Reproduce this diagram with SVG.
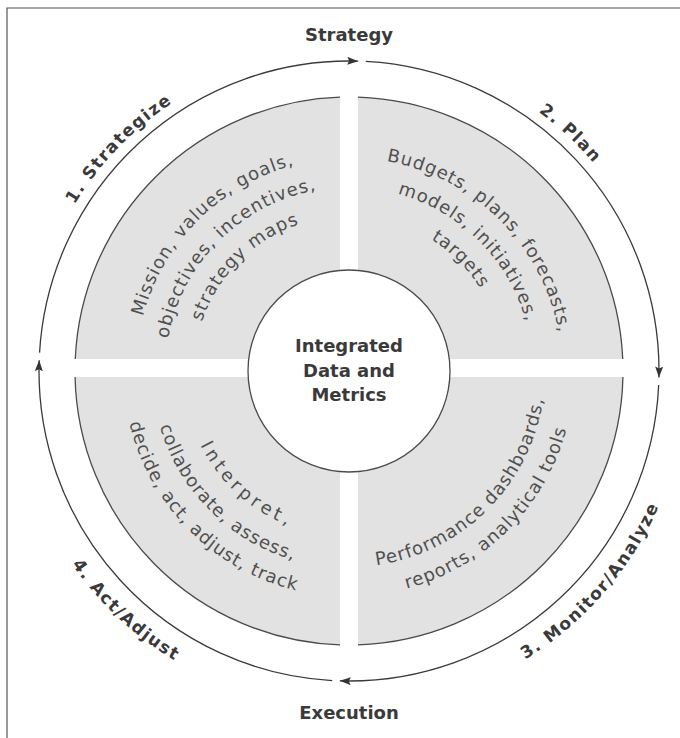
<svg xmlns="http://www.w3.org/2000/svg" width="680" height="738" viewBox="0 0 680 738">
  <style>
    .quad { fill: #e2e2e2; stroke: none; }
    .edge { fill: none; stroke: #4a4a4a; stroke-width: 1.3; }
    .conn { fill: none; stroke: #3a3a3a; stroke-width: 1.3; }
    .lbl { font-family: "DejaVu Sans", "Liberation Sans", sans-serif; font-weight: bold; font-size: 17px; fill: #3a3a3a; letter-spacing: 1.5px; }
    .in { font-family: "DejaVu Sans", "Liberation Sans", sans-serif; font-size: 18px; fill: #505050; letter-spacing: 1px; }
    .wide { letter-spacing: 4px; }
    .hd { font-family: "DejaVu Sans", "Liberation Sans", sans-serif; font-weight: bold; font-size: 18px; fill: #3a3a3a; text-anchor: middle; }
  </style>
  <defs>
    <marker id="arrow" markerUnits="userSpaceOnUse" markerWidth="12" markerHeight="8" refX="11" refY="4" orient="auto">
      <path d="M0,0 L11,4 L0,8 L2,4 Z" fill="#333"/>
    </marker>
    <!-- top texts (clockwise) -->
    <path id="tl1" d="M174.5,493.2 A213,213 0 0 1 471.2,196.5"/>
    <path id="tl2" d="M198.3,476.5 A184,184 0 0 1 454.5,220.3"/>
    <path id="tl3" d="M222.0,459.9 A155,155 0 0 1 437.9,244.0"/>
    <path id="tr1" d="M226.8,196.5 A213,213 0 0 1 523.5,493.2"/>
    <path id="tr2" d="M243.5,220.3 A184,184 0 0 1 499.7,476.5"/>
    <path id="tr3" d="M260.1,244.0 A155,155 0 0 1 476.0,459.9"/>
    <!-- bottom texts (counter-clockwise) -->
    <path id="br1" d="M236.6,531.6 A196,196 0 0 0 509.6,258.6"/>
    <path id="br2" d="M219.9,555.3 A225,225 0 0 0 533.3,241.9"/>
    <path id="bl1" d="M208.2,283.0 A166,166 0 0 0 451.2,501.8"/>
    <path id="bl2" d="M187.6,258.0 A197,197 0 0 0 462.0,532.4"/>
    <path id="bl3" d="M163.9,241.4 A226,226 0 0 0 478.6,556.1"/>
    <!-- outer stage labels -->
    <path id="o1" d="M89.3,559.7 A321,321 0 0 1 528.5,104.9"/>
    <path id="o2" d="M155.8,114.6 A321,321 0 0 1 618.2,545.8"/>
    <path id="o3" d="M174.9,660.7 A338,338 0 0 0 611.7,158.3"/>
    <path id="o4" d="M65.5,186.9 A338,338 0 0 0 552.4,640.9"/>
  </defs>

  <rect width="680" height="738" fill="#ffffff"/>
  <g id="frame">
    <path d="M7,738 L7,8 L680,8" fill="none" stroke="#555" stroke-width="1.2"/>
  </g>

  <g id="node-strategize">
    <path class="quad" d="M340,359 L340,97.15 A274,274 0 0 0 75.26,359 Z"/>
    <path class="edge" d="M340,97.15 A274,274 0 0 0 75.26,359"/>
    <text class="in"><textPath href="#tl1" startOffset="50%" text-anchor="middle">Mission, values, goals,</textPath></text>
    <text class="in"><textPath href="#tl2" startOffset="50%" text-anchor="middle">objectives, incentives,</textPath></text>
    <text class="in"><textPath href="#tl3" startOffset="50%" text-anchor="middle">strategy maps</textPath></text>
    <text class="lbl"><textPath href="#o1" startOffset="50%" text-anchor="middle">1. Strategize</textPath></text>
  </g>

  <g id="node-plan">
    <path class="quad" d="M358,359 L358,97.15 A274,274 0 0 1 622.74,359 Z"/>
    <path class="edge" d="M358,97.15 A274,274 0 0 1 622.74,359"/>
    <text class="in"><textPath href="#tr1" startOffset="50%" text-anchor="middle">Budgets, plans, forecasts,</textPath></text>
    <text class="in"><textPath href="#tr2" startOffset="50%" text-anchor="middle">models, initiatives,</textPath></text>
    <text class="in"><textPath href="#tr3" startOffset="50%" text-anchor="middle">targets</textPath></text>
    <text class="lbl"><textPath href="#o2" startOffset="50%" text-anchor="middle">2. Plan</textPath></text>
  </g>

  <g id="node-monitor">
    <path class="quad" d="M358,377 L622.93,377 A274,274 0 0 1 358,644.85 Z"/>
    <path class="edge" d="M622.93,377 A274,274 0 0 1 358,644.85"/>
    <text class="in"><textPath href="#br1" startOffset="50%" text-anchor="middle">Performance dashboards,</textPath></text>
    <text class="in"><textPath href="#br2" startOffset="50%" text-anchor="middle">reports, analytical tools</textPath></text>
    <text class="lbl"><textPath href="#o3" startOffset="50%" text-anchor="middle">3. Monitor/Analyze</textPath></text>
  </g>

  <g id="node-act">
    <path class="quad" d="M340,377 L75.07,377 A274,274 0 0 0 340,644.85 Z"/>
    <path class="edge" d="M75.07,377 A274,274 0 0 0 340,644.85"/>
    <text class="in wide"><textPath href="#bl1" startOffset="50%" text-anchor="middle">Interpret,</textPath></text>
    <text class="in"><textPath href="#bl2" startOffset="50%" text-anchor="middle">collaborate, assess,</textPath></text>
    <text class="in"><textPath href="#bl3" startOffset="50%" text-anchor="middle">decide, act, adjust, track</textPath></text>
    <text class="lbl"><textPath href="#o4" startOffset="50%" text-anchor="middle">4. Act/Adjust</textPath></text>
  </g>

  <g id="node-center">
    <circle cx="349" cy="371" r="101" fill="#ffffff" stroke="#4a4a4a" stroke-width="1.3"/>
    <text class="hd" x="349" y="352">Integrated</text>
    <text class="hd" x="349" y="377">Data and</text>
    <text class="hd" x="349" y="401">Metrics</text>
  </g>

  <g id="connectors">
    <path class="conn" marker-end="url(#arrow)" d="M39.55,352.61 A310,310 0 0 1 358.20,61.14"/>
    <path class="conn" marker-end="url(#arrow)" d="M365.76,61.45 A310,310 0 0 1 658.93,377.49"/>
    <path class="conn" marker-end="url(#arrow)" d="M658.68,385.06 A310,310 0 0 1 339.80,680.86"/>
    <path class="conn" marker-end="url(#arrow)" d="M332.24,680.55 A310,310 0 0 1 39.19,360.18"/>
  </g>

  <g id="axis-labels">
    <text class="hd" x="349" y="41">Strategy</text>
    <text class="hd" x="349" y="719">Execution</text>
  </g>
</svg>
